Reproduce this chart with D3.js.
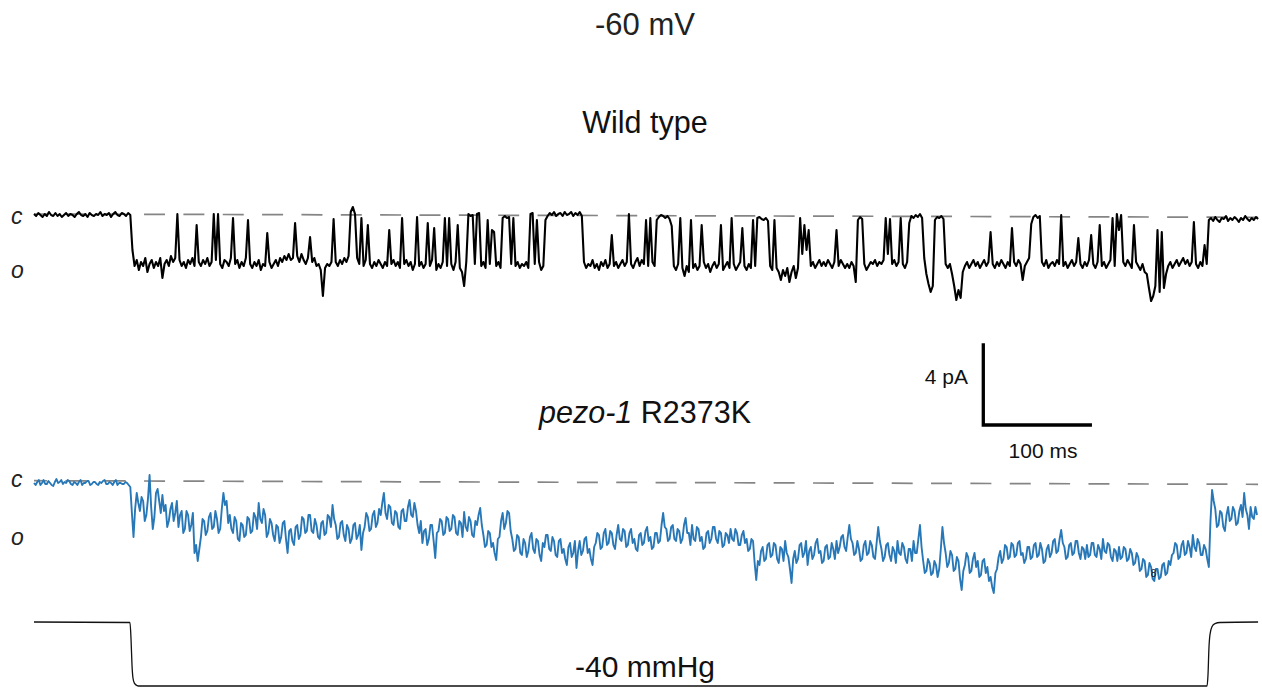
<!DOCTYPE html>
<html><head><meta charset="utf-8">
<script src="https://cdn.jsdelivr.net/npm/d3@7"></script>
<style>
html,body{margin:0;padding:0;background:#fff;}
svg{display:block;}
text{font-family:"Liberation Sans",Arial,Helvetica,sans-serif;}
</style>
</head><body>
<svg id="chart" width="1262" height="688"></svg>
<script>
// ---- data (ms, pA, mmHg) ----
const totalTime = 1144;
const wtSampleMs = 2;
const mutSampleMs = 1.5;

const wtCurrent = [
0,-0.1,0.05,-0.05,-0.15,0,-0.1,0.1,-0.05,-0.1,
0.05,-0.1,0,-0.15,-0.05,0.05,-0.1,0,-0.05,-0.15,
0,0.1,-0.05,-0.1,0,-0.15,0.05,-0.05,-0.1,0,
-0.05,0.1,-0.1,0,-0.05,0.05,-0.15,0,0.1,-0.05,
-0.1,0.05,0,-0.1,0.05,-0.05,
-1.8,-2.6,-2.3,-2.8,
-2.4,-2.6,-2.2,-2.9,-2.5,-2.3,-2.7,-2.4,-2.6,-2.2,
-3.2,-2.5,-2.3,-2.6,-2.1,-2.4,-2.2,0,-2.3,-2.6,
-2.4,-2.7,-2.3,-2.5,-2.2,-2.6,-0.55,-2.4,-2.6,-2.3,
-2.5,-2.2,-2.6,-2.4,0,-2.3,0,-2.5,-2.7,-2.3,
-2.4,-2.6,-2.2,-0.2,-2.5,-2.3,-2.7,-2.4,-2.6,-2.2,
-0.3,-2.5,-2.7,-2.4,-2.6,-2.3,-2.8,-2.5,-2.6,-0.95,
-2.4,-2.7,-2.5,-2.3,-2.6,-2.2,-2.4,-2.1,-2.3,-2.0,
-2.3,-2.2,-0.45,-2.1,-2.4,-2.0,-2.3,-2.5,-2.2,-1.15,
-2.4,-2.2,-2.6,-2.5,-2.8,-4.1,-2.7,-2.5,-2.6,-2.4,
-0.25,-2.4,-2.6,-2.3,-2.5,-2.2,-2.4,-2.1,0.1,0.35,
0,-2.2,-2.5,-0.2,-2.6,-2.3,-0.55,-2.5,-2.7,-2.4,
-2.6,-2.3,-2.5,-2.7,-2.4,-2.6,-0.8,-2.5,-2.3,-2.6,
-2.4,-2.7,-0.2,-2.5,-2.3,-2.6,-2.4,-2.8,-2.5,-0.15,
-2.6,-2.4,-2.7,-2.5,-0.45,-2.6,-2.3,-0.7,-2.8,-2.5,
-2.7,-2.4,-0.2,-2.6,-0.2,-2.5,-2.8,-2.4,-0.55,-2.7,
-2.9,-3.6,-2.4,0,-0.1,-0.05,-2.5,0,0.05,-2.6,
-2.4,-2.7,-0.3,-2.5,-0.8,-0.9,-2.6,-2.4,-2.7,-0.2,
-0.1,-0.2,-0.15,-2.5,-0.2,-2.6,-2.4,-2.7,-2.5,-2.6,
-2.4,-2.7,0,0.05,-2.5,-0.3,-2.4,-2.8,-2.6,-0.3,
-0.1,0.05,-0.05,0.1,-0.1,0,0.05,-0.1,0.1,-0.05,
0,0.1,-0.1,0.05,-0.05,0.1,-0.1,
-2.4,-2.7,-2.5,
-2.6,-2.3,-2.7,-2.5,-2.8,-2.4,-2.6,-2.3,-2.7,-2.5,
-1.05,-2.6,-2.4,-2.7,-2.5,-2.3,-2.6,-2.4,0,-2.5,
-2.7,-2.4,-2.2,-2.6,-2.3,-2.5,-0.3,-2.6,-0.2,-2.4,
-2.6,-0.3,-0.15,-0.05,-0.1,-0.2,-0.1,-0.25,-0.6,-2.6,
-2.8,-2.5,-0.2,-2.7,-3.1,-2.6,-2.9,-0.3,-2.7,-2.5,
-2.8,-2.6,-0.55,-2.4,-2.7,-2.5,-2.9,-2.6,-2.4,-2.7,
-2.5,-0.55,-2.8,-2.6,-2.4,-2.7,-0.2,-2.5,-2.8,-2.6,
-2.4,-0.7,-2.6,-2.8,-2.5,-2.7,-0.3,-2.6,-0.2,-0.15,
-0.25,-0.3,-0.2,-0.35,-2.6,-2.8,-0.3,-2.7,-2.9,-3.3,
-2.8,-3.1,-2.7,-3.4,-2.9,-2.6,-3.2,-2.7,-0.2,-2.0,
-0.55,-1.8,-0.8,-2.6,-2.4,-2.7,-2.5,-2.3,-2.6,-2.4,
-2.6,-2.3,-2.5,-2.7,-2.4,-0.8,-2.6,-2.3,-2.5,-2.7,
-2.5,-2.7,-2.4,-2.6,-3.4,-0.3,-0.15,-0.25,-2.5,-2.8,
-2.6,-2.4,-2.5,-2.3,-2.6,-2.4,-2.5,-2.3,-0.2,-2.0,
-0.25,-2.5,-2.3,-2.6,-2.4,-0.2,-2.5,-2.7,-2.4,-0.45,
-0.1,-0.2,-0.05,-0.15,0,-0.2,-2.2,-3.0,-3.5,-3.9,
-3.6,-0.3,-0.15,-0.2,-0.1,-0.25,-2.5,-2.7,-2.5,-3.0,
-3.6,-4.3,-3.8,-4.2,-2.9,-2.6,-2.4,-2.7,-2.5,-2.3,
-2.6,-2.4,-2.7,-2.5,-2.3,-2.6,-2.4,-0.9,-2.5,-2.7,
-2.4,-2.6,-2.3,-2.5,-2.7,-2.4,-2.6,-0.7,-2.4,-2.6,
-2.3,-2.5,-3.3,-2.6,-2.4,-2.2,-0.5,-0.15,-0.05,-0.2,
-0.1,-2.4,-2.6,-2.3,-2.7,-2.5,-2.4,-2.6,-2.3,-2.5,
-0.05,-2.6,-2.4,-2.7,-2.5,-2.3,-2.6,-2.4,-1.2,-2.5,
-2.7,-2.4,-2.6,-2.3,-1.05,-2.5,-2.7,-2.4,-0.55,-2.6,
-2.4,-2.7,-2.5,-2.3,-0.2,-2.6,0,-0.8,-0.05,-2.4,
-2.6,-2.3,-2.5,-2.7,-0.55,-2.4,-2.6,-2.8,-2.5,-2.9,
-3.0,-3.7,-4.35,-4.1,-3.6,-0.8,-3.9,-0.9,-3.7,-3.0,
-2.6,-2.4,-2.7,-2.5,-2.3,-2.6,-2.4,-2.2,-2.5,-2.3,
-2.6,-2.4,-0.4,-2.5,-2.7,-2.4,-2.6,-1.55,-2.5,-0.3,
-0.2,-0.35,-0.15,-0.3,-0.4,-0.2,-0.25,-0.1,-0.35,-0.2,
-0.3,-0.15,-0.25,-0.4,-0.2,-0.3,-0.1,-0.25,-0.35,-0.2,
-0.3,-0.15,-0.25
];

const mutCurrent = [
-0.1,-0.2,-0.05,0.05,-0.2,-0.1,0.05,-0.15,-0.15,0,-0.1,-0.2,-0.25,-0.05,0.1,-0.1,-0.05,0.05,-0.15,-0.05,
-0.1,0.05,0,-0.15,-0.2,-0.05,-0.1,-0.2,-0.05,0.05,-0.2,-0.1,-0.1,0,0,-0.2,-0.15,-0.05,-0.05,-0.15,
-0.2,-0.05,-0.1,0,0.05,-0.15,-0.15,-0.05,-0.1,-0.2,-0.05,0.05,-0.2,-0.1,-0.1,-0.15,-0.15,-0.05,-0.1,-0.2,
-0.3,-1.6,-2.8,-1.4,-0.6,-1.1,-1.5,-0.8,-1.0,-2.0,-1.7,-0.9,0.3,-1.3,-2.4,-1.8,-0.6,-0.4,-1.0,-1.6,
-0.7,-1.5,-1.2,-2.3,-2.0,-1.4,-1.1,-2.0,-1.6,-1.0,-2.3,-1.7,-1.5,-2.6,-2.4,-1.5,-1.7,-2.5,-2.2,-1.6,
-3.6,-3.2,-4.0,-3.4,-2.8,-1.9,-2.0,-2.7,-2.5,-1.8,-1.6,-2.4,-2.3,-1.5,-1.9,-2.6,-2.4,-1.4,-0.6,-1.2,
-1.0,-2.1,-1.7,-2.4,-2.6,-1.8,-2.0,-2.9,-3.0,-2.1,-2.2,-2.8,-2.7,-1.8,-1.9,-2.6,-2.5,-1.6,-1.8,-2.4,
-1.1,-1.9,-2.1,-1.4,-1.7,-2.8,-2.6,-1.9,-2.1,-2.7,-3.0,-2.2,-2.3,-3.1,-2.8,-2.1,-2.0,-2.9,-3.6,-2.5,
-2.4,-3.0,-3.2,-2.3,-2.2,-2.9,-2.7,-1.8,-1.9,-2.6,-2.5,-1.7,-1.7,-2.5,-2.6,-1.9,-2.2,-2.8,-2.9,-2.1,
-2.0,-2.7,-2.6,-1.7,-1.8,-2.3,-1.2,-1.9,-2.2,-2.9,-2.8,-2.1,-2.0,-2.7,-3.0,-2.2,-2.4,-3.1,-2.9,-2.2,
-2.1,-2.9,-2.7,-2.2,-3.45,-2.6,-2.3,-1.6,-1.8,-2.5,-2.4,-1.7,-1.5,-2.3,-2.1,-1.4,-1.7,-1.1,-0.6,-1.6,
-1.9,-1.2,-1.3,-2.1,-2.2,-1.5,-1.6,-2.3,-2.4,-1.5,-1.4,-2.0,-2.0,-1.3,-0.95,-1.7,-1.8,-1.1,-1.5,-2.2,
-2.6,-2.0,-3.1,-2.5,-2.4,-3.2,-2.9,-2.2,-2.2,-3.0,-3.85,-2.6,-2.5,-1.9,-2.0,-2.7,-2.6,-1.8,-1.9,-2.5,
-2.4,-1.7,-1.8,-2.6,-2.7,-2.0,-2.1,-2.8,-1.55,-2.3,-2.5,-1.8,-2.0,-2.7,-2.8,-2.0,-2.2,-1.7,-1.35,-2.2,
-2.7,-3.3,-3.2,-2.5,-2.6,-3.3,-3.1,-3.6,-3.95,-2.9,-2.8,-2.0,-1.6,-2.4,-2.1,-1.5,-1.6,-2.5,-2.9,-3.5,
-3.4,-2.7,-2.8,-3.6,-3.7,-2.9,-3.1,-3.8,-3.5,-2.8,-2.6,-3.4,-3.6,-2.9,-3.0,-3.7,-4.0,-3.1,-3.3,-2.7,
-2.7,-3.4,-3.5,-2.8,-3.0,-3.7,-3.8,-3.0,-2.9,-3.6,-3.4,-3.9,-4.2,-3.3,-3.1,-3.8,-3.6,-3.0,-4.35,-3.5,
-3.0,-3.7,-3.5,-2.9,-2.8,-3.6,-3.4,-3.9,-4.2,-3.3,-3.1,-2.6,-2.7,-3.4,-3.3,-2.6,-2.4,-3.2,-3.1,-2.5,
-2.6,-3.2,-3.4,-2.7,-2.2,-2.9,-3.0,-2.4,-2.5,-3.3,-3.2,-2.6,-2.4,-3.1,-2.9,-3.4,-3.5,-2.7,-2.6,-3.2,
-3.1,-2.5,-2.3,-3.0,-2.8,-3.4,-3.3,-2.6,-2.6,-3.1,-3.0,-2.2,-1.6,-2.3,-2.4,-3.0,-2.9,-2.3,-2.2,-2.9,
-3.0,-2.4,-2.5,-3.1,-2.9,-2.2,-1.85,-2.6,-2.6,-3.2,-2.2,-2.9,-3.0,-2.3,-2.4,-3.0,-2.8,-3.4,-3.3,-2.6,
-2.5,-3.1,-2.9,-2.3,-2.3,-2.9,-3.1,-2.5,-2.6,-3.3,-3.2,-2.6,-2.7,-3.1,-2.4,-2.9,-3.0,-2.4,-2.6,-3.2,
-3.2,-2.7,-2.5,-3.1,-2.9,-3.5,-3.4,-2.9,-3.0,-4.1,-4.95,-4.0,-4.2,-3.5,-3.3,-4.0,-3.9,-3.2,-3.1,-3.8,
-3.7,-3.1,-3.2,-3.9,-4.1,-3.3,-3.4,-4.0,-3.0,-3.6,-3.8,-4.4,-5.1,-3.9,-3.5,-4.1,-3.9,-3.2,-3.1,-3.8,
-3.6,-3.0,-4.2,-3.5,-3.3,-3.9,-3.7,-3.1,-2.9,-3.6,-3.5,-4.1,-4.0,-3.3,-3.2,-3.9,-3.8,-3.1,-3.4,-3.9,
-3.0,-3.6,-3.3,-2.8,-2.7,-3.3,-3.5,-2.8,-2.2,-2.9,-3.1,-3.7,-3.6,-3.0,-3.4,-4.0,-3.9,-3.2,-3.0,-3.7,
-3.6,-3.0,-3.2,-3.8,-3.9,-3.1,-2.3,-3.0,-3.4,-4.0,-3.8,-3.2,-3.1,-3.7,-4.0,-3.3,-3.5,-4.1,-3.0,-3.6,
-3.7,-3.1,-3.3,-3.9,-4.1,-3.4,-3.4,-4.0,-3.0,-3.6,-3.6,-2.9,-2.2,-3.3,-4.0,-4.6,-4.5,-3.9,-4.1,-4.7,
-4.6,-4.0,-4.2,-4.8,-4.4,-3.4,-2.3,-3.1,-3.6,-4.3,-4.1,-3.5,-3.7,-4.5,-4.4,-3.8,-4.0,-4.9,-5.45,-4.5,
-4.2,-3.6,-3.8,-4.6,-4.5,-3.9,-3.6,-4.3,-4.0,-4.8,-4.7,-4.0,-3.9,-4.6,-4.3,-5.0,-4.8,-5.3,-5.6,-4.6,
-4.4,-3.8,-3.5,-4.1,-3.9,-3.2,-3.3,-3.9,-3.8,-3.1,-3.2,-3.8,-3.7,-3.1,-3.0,-3.7,-3.6,-4.1,-3.9,-3.3,
-3.3,-3.9,-3.8,-3.2,-3.1,-3.8,-3.7,-3.1,-3.4,-4.1,-4.0,-3.4,-3.2,-3.8,-3.6,-3.0,-2.9,-3.6,-3.5,-2.9,
-2.45,-3.1,-3.3,-3.9,-3.8,-3.2,-3.1,-3.7,-3.6,-3.0,-3.0,-3.6,-3.9,-3.3,-3.4,-3.9,-3.2,-3.8,-3.7,-3.1,
-3.1,-3.7,-3.8,-3.2,-3.4,-3.9,-2.9,-3.5,-3.6,-3.1,-3.2,-3.8,-4.0,-3.4,-3.5,-4.0,-3.3,-3.9,-3.8,-3.3,
-3.4,-4.0,-3.9,-3.4,-3.6,-4.2,-4.1,-3.6,-3.8,-4.5,-4.4,-3.9,-4.0,-4.8,-4.7,-4.1,-4.3,-4.9,-5.0,-4.4,
-4.4,-4.9,-4.8,-4.2,-4.1,-4.7,-4.6,-4.0,-4.2,-3.7,-3.6,-3.1,-3.2,-3.9,-3.8,-3.2,-3.0,-3.7,-3.6,-3.0,
-3.3,-3.8,-2.7,-3.3,-3.5,-2.9,-3.1,-3.7,-3.7,-3.2,-3.4,-3.9,-4.3,-2.0,-0.45,-1.0,-1.4,-2.3,-2.2,-1.5,
-1.6,-2.3,-2.5,-1.7,-1.3,-2.0,-1.9,-1.3,-1.5,-2.2,-2.1,-1.5,-1.2,-1.8,-0.6,-1.4,-1.7,-2.4,-1.3,-1.8,
-1.9,-1.3,-1.7
];

const pressureTime  = [0, 89.7, 90.7, 91.6, 92.5, 93.9, 96.3, 99, 1096.3, 1097.2, 1098.1, 1099, 1100.9, 1103.7, 1108.4, 1144];
const pressureValue = [0, -0.3, -11, -27, -35, -38.4, -39.7, -40, -40, -33, -16, -8, -3, -1, -0.3, 0];

const baselineTime = [0, 1144];
const wtBaseline   = [0, -0.165];
const mutBaseline  = [0.015, -0.165];

const scaleBarCurrent = 4;   // pA
const scaleBarTime = 100;    // ms

const titleText = "-60 mV";
const wtLabel = "Wild type";
const mutLabelItalic = "pezo-1";
const mutLabelRest = " R2373K";
const pressureLabel = "-40 mmHg";
const stateLabels = ["c", "o"];

// ---- drawing ----
const svg = d3.select("#chart");
svg.append("rect").attr("width",1262).attr("height",688).attr("fill","#fff");

const x = d3.scaleLinear().domain([0, totalTime]).range([34, 34 + totalTime*1.07]);
const yWT = d3.scaleLinear().domain([0, -4]).range([214, 294]);
const yMut = d3.scaleLinear().domain([0, -4]).range([481, 561]);
const yP = d3.scaleLinear().domain([0, -40]).range([622, 686]);

// dashed closed-level references
function dashed(yScale, vals){
  svg.append("path")
    .datum(baselineTime.map((t,i)=>[t, vals[i]]))
    .attr("d", d3.line().x(d=>x(d[0])).y(d=>yScale(d[1])))
    .attr("fill","none").attr("stroke","#858585").attr("stroke-width",1.7)
    .attr("stroke-dasharray","21 18.35").attr("stroke-dashoffset",8);
}
dashed(yWT, wtBaseline);
dashed(yMut, mutBaseline);

svg.append("path")
  .datum(wtCurrent)
  .attr("d", d3.line().x((d,i)=>x(i*wtSampleMs)).y(d=>yWT(d)))
  .attr("fill","none").attr("stroke","#000").attr("stroke-width",2.1)
  .attr("stroke-linejoin","round");

svg.append("path")
  .datum(mutCurrent)
  .attr("d", d3.line().x((d,i)=>x(i*mutSampleMs)).y(d=>yMut(d)))
  .attr("fill","none").attr("stroke","#2878b8").attr("stroke-width",1.9)
  .attr("stroke-linejoin","round");

svg.append("path")
  .datum(pressureTime.map((t,i)=>[t, pressureValue[i]]))
  .attr("d", d3.line().x(d=>x(d[0])).y(d=>yP(d[1])).curve(d3.curveMonotoneX))
  .attr("fill","none").attr("stroke","#111").attr("stroke-width",1.3);

// state labels
const labelBaselines = [[223.5, 278], [487, 545]];
labelBaselines.forEach(pair => {
  stateLabels.forEach((s, i) => {
    svg.append("text").attr("x", 11).attr("y", pair[i])
      .attr("font-size", 23).attr("font-style","italic").attr("fill","#222").text(s);
  });
});

// titles
function centerText(txt, yy, size){
  return svg.append("text").attr("x", 645).attr("y", yy).attr("text-anchor","middle")
    .attr("font-size", size).attr("fill","#111").text(txt);
}
centerText(titleText, 35, 31).attr("fill","#222");
centerText(wtLabel, 133, 30.5);
const mt = svg.append("text").attr("x", 645).attr("y", 423).attr("text-anchor","middle")
  .attr("font-size", 30.5).attr("fill","#111");
mt.append("tspan").attr("font-style","italic").text(mutLabelItalic);
mt.append("tspan").text(mutLabelRest);
centerText(pressureLabel, 677, 30);

// scale bar
const sbX = 983.3, sbY = 425;
const sbW = x(scaleBarTime) - x(0);
const sbH = yWT(-scaleBarCurrent) - yWT(0);
svg.append("path")
  .attr("d", `M${sbX},${sbY - sbH}L${sbX},${sbY}L${sbX + sbW},${sbY}`)
  .attr("fill","none").attr("stroke","#000").attr("stroke-width",3.3)
  .attr("stroke-linecap","square").attr("stroke-linejoin","miter");
svg.append("text").attr("x", 968).attr("y", 384).attr("text-anchor","end")
  .attr("font-size", 21).attr("fill","#111").text(scaleBarCurrent + " pA");
svg.append("text").attr("x", 1043).attr("y", 458).attr("text-anchor","middle")
  .attr("font-size", 21).attr("fill","#111").text(scaleBarTime + " ms");

// small stray mark in the original
svg.append("text").attr("x", 1153.5).attr("y", 577).attr("text-anchor","middle")
  .attr("font-size", 10).attr("fill","#1a1a2a").text("8");
</script>
</body></html>
